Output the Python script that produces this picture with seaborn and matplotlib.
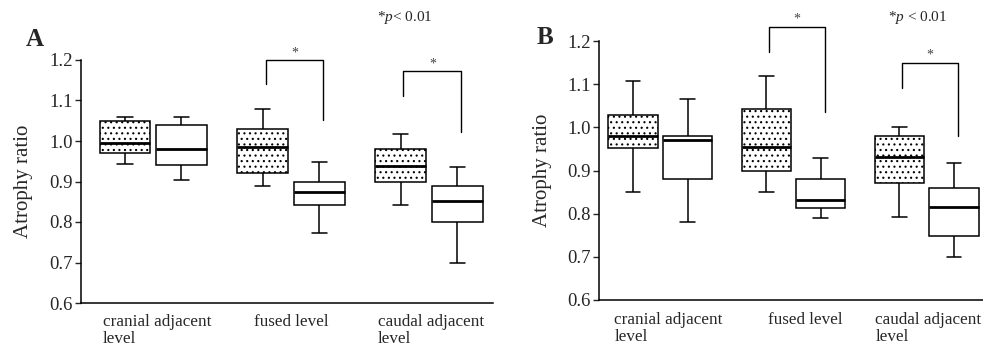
import numpy as np
import pandas as pd
import matplotlib
matplotlib.use("Agg")
import matplotlib.pyplot as plt
import matplotlib.transforms as mtransforms
import seaborn as sns

sns.set_style("white")
plt.rcParams['font.family'] = ['Liberation Serif', 'DejaVu Serif']
plt.rcParams['mathtext.fontset'] = 'custom'
plt.rcParams['mathtext.rm'] = 'Liberation Serif'
plt.rcParams['mathtext.it'] = 'Liberation Serif:italic'
plt.rcParams['hatch.color'] = '#555555'
plt.rcParams['hatch.linewidth'] = 0.8

levels = ["cranial adjacent\nlevel", "fused level", "caudal adjacent\nlevel"]
groups = ["Group 1", "Group 2"]

# five-number summaries: [low whisker, Q1, median, Q3, high whisker]
A_g1 = [[0.943, 0.970, 0.996, 1.050, 1.060],
        [0.890, 0.921, 0.986, 1.030, 1.078],
        [0.841, 0.900, 0.938, 0.981, 1.018]]
A_g2 = [[0.904, 0.941, 0.981, 1.040, 1.059],
        [0.773, 0.841, 0.875, 0.900, 0.949],
        [0.700, 0.801, 0.851, 0.888, 0.935]]
B_g1 = [[0.850, 0.952, 0.979, 1.029, 1.107],
        [0.850, 0.900, 0.955, 1.042, 1.119],
        [0.792, 0.871, 0.931, 0.980, 1.001]]
B_g2 = [[0.780, 0.880, 0.971, 0.980, 1.066],
        [0.789, 0.813, 0.832, 0.880, 0.930],
        [0.700, 0.749, 0.815, 0.860, 0.918]]

# significance brackets: (level index, left end y, top y, right end y)
A_brackets = [(1, 1.141, 1.200, 1.052), (2, 1.111, 1.173, 1.022)]
B_brackets = [(1, 1.175, 1.233, 1.036), (2, 1.090, 1.150, 0.980)]

yticks = [0.6, 0.7, 0.8, 0.9, 1.0, 1.1, 1.2]
ytick_labels = ["0.6", "0.7", "0.8", "0.9", "1.0", "1.1", "1.2"]


def make_df(g1, g2):
    rows = []
    for li, lev in enumerate(levels):
        for v in g1[li]:
            rows.append((lev, groups[0], v))
        for v in g2[li]:
            rows.append((lev, groups[1], v))
    return pd.DataFrame(rows, columns=["level", "group", "value"])


W, H = 983, 349
fig = plt.figure(figsize=(W / 100, H / 100), dpi=100)


def panel(rect_px, g1, g2, brackets, xlim, letter, letter_px, ptext, ptext_px, ylabel_x, xlabel_offsets):
    l, t, r, b = rect_px
    ax = fig.add_axes([l / W, 1 - b / H, (r - l) / W, (b - t) / H])
    df = make_df(g1, g2)
    sns.boxplot(data=df, x="level", y="value", hue="group", order=levels,
                hue_order=groups, palette=["white", "white"], whis=(0, 100),
                width=0.82, gap=0.1, linecolor="black", linewidth=1.1,
                showfliers=False, legend=False, ax=ax,
                medianprops=dict(linewidth=2.0, color="black"))
    for p in ax.patches:
        verts = p.get_path().vertices
        xc = verts[:, 0].mean()
        if xc < round(xc):
            p.set_hatch("...")
    # shorter caps
    for line in ax.lines:
        xd = np.asarray(line.get_xdata(), dtype=float)
        yd = np.asarray(line.get_ydata(), dtype=float)
        if len(xd) == 2 and yd[0] == yd[1] and xd[0] != xd[1]:
            c = xd.mean()
            half = abs(xd[1] - xd[0]) / 2
            if line.get_linewidth() < 1.5:
                line.set_xdata([c - half * 0.6, c + half * 0.6])
    ax.set_xlim(*xlim)
    ax.set_ylim(0.6, 1.2)
    ax.set_yticks(yticks)
    ax.set_yticklabels(ytick_labels, fontsize=13.5)
    ax.set_xticks([])
    ax.set_xlabel("")
    ax.set_ylabel("Atrophy ratio", fontsize=15)
    ax.yaxis.set_label_coords(ylabel_x, 0.5)
    ax.tick_params(axis="y", direction="out", length=4, width=1, left=True, pad=2)
    for s in ["top", "right"]:
        ax.spines[s].set_visible(False)
    for s in ["left", "bottom"]:
        ax.spines[s].set_linewidth(1.1)
        ax.spines[s].set_color("black")
    # brackets
    for li, y_left, y_top, y_right in brackets:
        xl, xr = li - 0.205 + 0.02, li + 0.205 + 0.03
        ax.plot([xl, xl, xr, xr], [y_left, y_top, y_top, y_right],
                color="black", lw=1.0, clip_on=False)
        ax.text((xl + xr) / 2, y_top + 0.002, "*", ha="center", va="bottom",
                fontsize=10, color="#444444", clip_on=False)
    # x labels
    trans = mtransforms.blended_transform_factory(ax.transData, ax.transAxes)
    for li, lev in enumerate(levels):
        ax.text(li + xlabel_offsets[li], -0.045, lev, transform=trans, ha="left",
                va="top", fontsize=12.3, linespacing=1.1)
    fig.text(letter_px[0] / W, 1 - letter_px[1] / H, letter, fontsize=18,
             fontweight="bold", ha="left", va="center")
    fig.text(ptext_px[0] / W, 1 - ptext_px[1] / H, ptext, fontsize=11,
             ha="left", va="center")
    return ax


panel((81, 60, 493, 303), A_g1, A_g2, A_brackets, (-0.524, 2.465), "A", (26, 40),
      r"*$\mathit{p}$< 0.01", (377, 17), -0.117, [-0.364, -0.27, -0.37])
panel((599, 41, 983, 300), B_g1, B_g2, B_brackets, (-0.46, 2.423), "B", (537, 38),
      r"*$\mathit{p}$ < 0.01", (888, 17), -0.122, [-0.345, -0.19, -0.385])

fig.savefig("out.png", dpi=100)
